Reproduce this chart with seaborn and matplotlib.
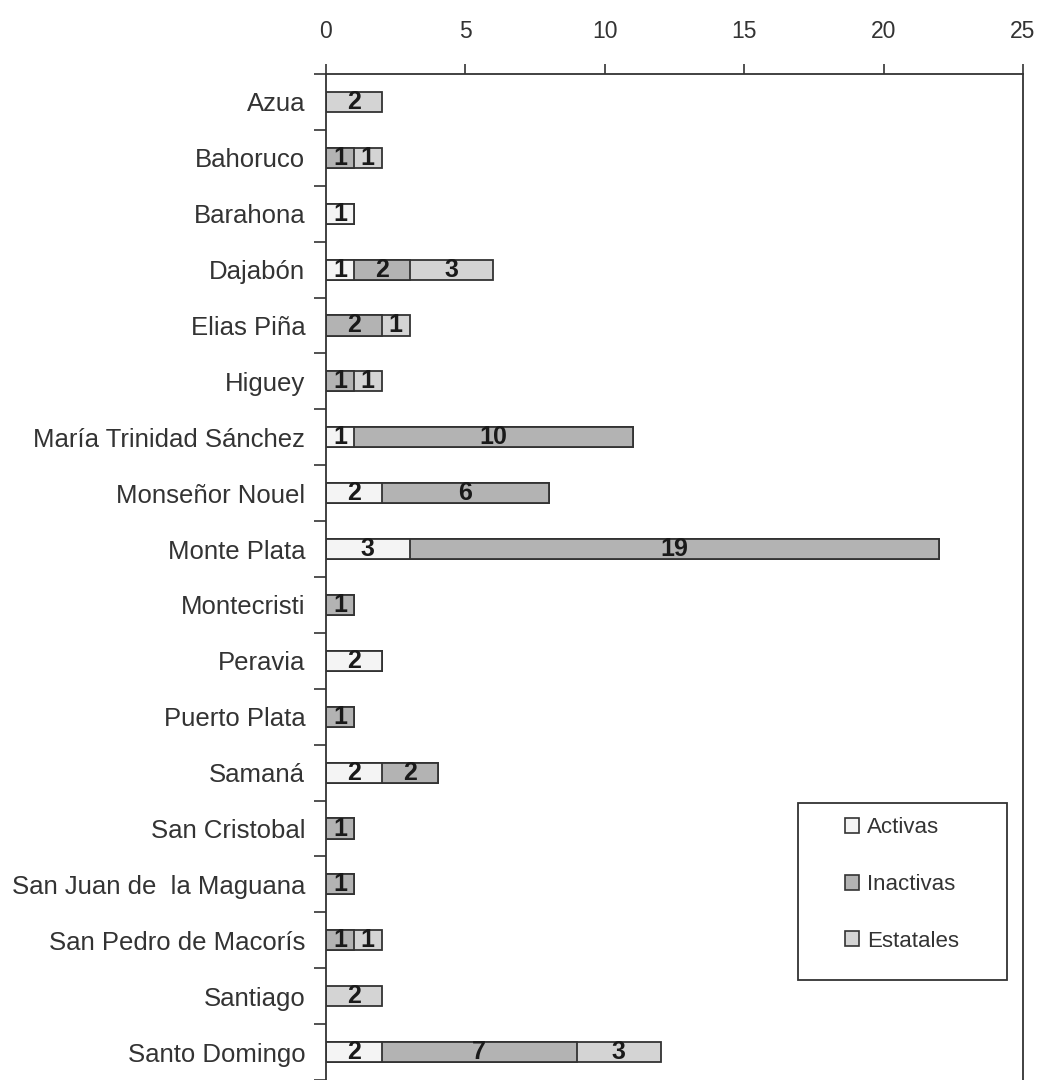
import matplotlib
matplotlib.use("Agg")
import matplotlib.pyplot as plt
import matplotlib.patches as mpatches
import seaborn as sns
import pandas as pd
import numpy as np

# Data
provincias = ["Azua", "Bahoruco", "Barahona", "Dajabón", "Elias Piña", "Higuey",
              "María Trinidad Sánchez", "Monseñor Nouel", "Monte Plata", "Montecristi",
              "Peravia", "Puerto Plata", "Samaná", "San Cristobal",
              "San Juan de  la Maguana", "San Pedro de Macorís", "Santiago", "Santo Domingo"]
activas = [0, 0, 1, 1, 0, 0, 1, 2, 3, 0, 2, 0, 2, 0, 0, 0, 0, 2]
inactivas = [0, 1, 0, 2, 2, 1, 10, 6, 19, 1, 0, 1, 2, 1, 1, 1, 0, 7]
estatales = [2, 1, 0, 3, 1, 1, 0, 0, 0, 0, 0, 0, 0, 0, 0, 1, 2, 3]

series = ["Activas", "Inactivas", "Estatales"]
colores = {"Activas": "#f4f4f4", "Inactivas": "#b3b3b3", "Estatales": "#d4d4d4"}

df = pd.DataFrame({"Provincia": provincias, "Activas": activas,
                   "Inactivas": inactivas, "Estatales": estatales})
df["c1"] = df["Activas"]
df["c2"] = df["c1"] + df["Inactivas"]
df["c3"] = df["c2"] + df["Estatales"]

sns.set_style("white")
plt.rcParams["font.family"] = ["Liberation Sans", "DejaVu Sans"]

txt = "#333333"
edge = "#333333"

fig = plt.figure(figsize=(10.4, 10.8), dpi=100)
ax = fig.add_axes([326 / 1040, 0.0, (1023 - 326) / 1040, 1 - 74 / 1080])

# stacked bars: draw cumulative totals from the back to the front
for col, name in [("c3", "Estatales"), ("c2", "Inactivas"), ("c1", "Activas")]:
    sns.barplot(data=df, x=col, y="Provincia", order=provincias, orient="h",
                color=colores[name], saturation=1, width=0.36,
                edgecolor=edge, linewidth=1.3, ax=ax)

# value labels centred on each segment
for i, row in df.iterrows():
    start = 0
    for name in series:
        v = row[name]
        if v > 0:
            ax.text(start + v / 2, i, str(v), ha="center", va="center",
                    fontsize=18, fontweight="bold", color="#1a1a1a")
        start += v

ax.set_xlim(0, 25)
ax.set_ylim(len(provincias) - 0.5, -0.5)
ax.set_xticks(np.arange(0, 26, 5))
ax.xaxis.tick_top()
ax.set_xlabel("")
ax.set_ylabel("")
ax.tick_params(axis="x", top=True, direction="out", length=7, width=1.2, color=edge,
               pad=15, labelsize=16.5, labelcolor=txt)
ax.set_yticks(np.arange(len(provincias)))
ax.set_yticklabels(provincias)
ax.tick_params(axis="y", which="major", left=True, length=0, pad=15,
               labelsize=18.5, labelcolor=txt)
ax.set_yticks(np.arange(len(provincias) + 1) - 0.5, minor=True)
ax.tick_params(axis="y", which="minor", left=True, direction="out", length=9,
               width=1.2, color=edge)

for s in ["top", "left", "right"]:
    ax.spines[s].set_visible(True)
    ax.spines[s].set_color(edge)
    ax.spines[s].set_linewidth(1.3)
ax.spines["bottom"].set_visible(False)

# legend frame drawn separately so the entries can sit indented inside it
frame = mpatches.Rectangle((0.677, 0.0994), 0.30, 0.176, transform=ax.transAxes,
                           facecolor="white", edgecolor=edge, linewidth=1.3, zorder=4)
ax.add_patch(frame)
handles = [mpatches.Patch(facecolor=colores[n], edgecolor=edge, linewidth=1.2, label=n)
           for n in series]
leg = ax.legend(handles=handles, loc="upper left", bbox_to_anchor=(0.7446, 0.261),
                frameon=False, fontsize=16, handlelength=0.65, handleheight=0.65,
                handletextpad=0.36, labelspacing=1.6, borderpad=0, borderaxespad=0)
leg.set_zorder(5)
for t in leg.get_texts():
    t.set_color(txt)

fig.savefig("out.png", dpi=100)
